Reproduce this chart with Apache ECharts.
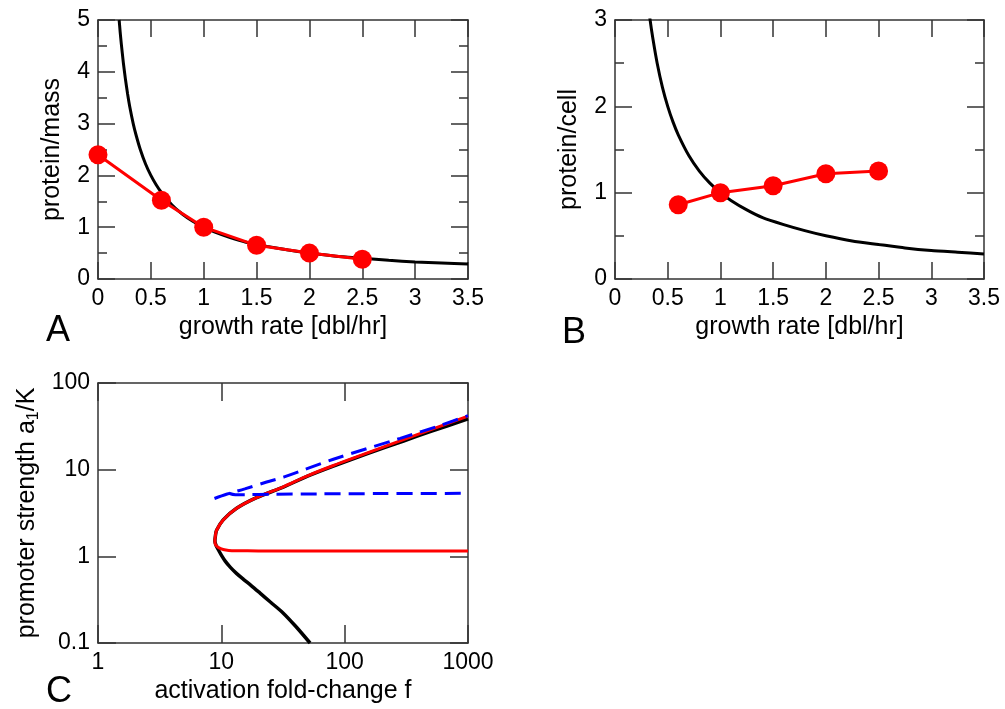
<!DOCTYPE html>
<html>
<head>
<meta charset="utf-8">
<title>Protein levels vs growth rate</title>
<script src="https://cdn.jsdelivr.net/npm/echarts@6/dist/echarts.min.js"></script>
<style>
  html, body { margin: 0; padding: 0; background: #fff; }
  #chart { width: 1005px; height: 709px; }
</style>
</head>
<body>
<div id="chart"></div>
<script>
// ---- Panel A / B : growth-rate axes ----
const rateTicks = [0, 0.5, 1, 1.5, 2, 2.5, 3, 3.5];
const massTicks = [0, 1, 2, 3, 4, 5];
const cellTicks = [0, 1, 2, 3];

// measured protein per mass (panel A)
const growthRateA = [0, 0.6, 1, 1.5, 2, 2.5];
const proteinPerMass = [2.4, 1.52, 1.0, 0.65, 0.5, 0.38];

// measured protein per cell (panel B)
const growthRateB = [0.6, 1, 1.5, 2, 2.5];
const proteinPerCell = [0.86, 1.0, 1.08, 1.22, 1.25];

// reference curve shared by A and B: [growth rate, level]
const referenceCurve = [
  [0.2, 5.0], [0.21, 4.76], [0.22, 4.55], [0.24, 4.17], [0.26, 3.85],
  [0.28, 3.57], [0.3, 3.33], [0.333, 3.0], [0.36, 2.78], [0.4, 2.5],
  [0.45, 2.22], [0.5, 2.0], [0.55, 1.82], [0.6, 1.67], [0.7, 1.43],
  [0.8, 1.25], [0.9, 1.11], [1.0, 1.0], [1.1, 0.91], [1.25, 0.8],
  [1.4, 0.71], [1.6, 0.63], [1.8, 0.56], [2.0, 0.5], [2.25, 0.44],
  [2.5, 0.4], [2.75, 0.36], [3.0, 0.33], [3.25, 0.31], [3.5, 0.29]
];

// ---- Panel C : log-log axes ----
const foldTicks = [1, 1000];
const strengthTicks = [0.1, 100];

// [fold-change f, promoter strength a1/K]
const blackBranch = [
  [52.4, 0.1], [40.05, 0.156], [31.8, 0.221], [24.98, 0.297], [20.61, 0.376],
  [17.55, 0.457], [15.11, 0.543], [13.26, 0.636], [11.85, 0.746], [10.79, 0.874],
  [10.0, 1.033], [9.43, 1.198], [9.03, 1.354], [8.87, 1.5], [8.95, 1.72],
  [9.15, 2.0], [10.35, 2.63], [13.3, 3.58], [19.3, 4.75], [31.8, 6.3],
  [50, 8.4], [80, 10.9], [151, 15.2], [300, 21.4], [500, 27.6], [1000, 38.5]
];
const redBranch = [
  [1000, 1.15], [300, 1.15], [100, 1.15], [40, 1.15], [20, 1.155],
  [13.3, 1.16], [11.5, 1.17], [10.35, 1.2], [9.5, 1.26], [9.0, 1.35],
  [8.87, 1.5], [8.95, 1.72], [9.15, 2.0], [10.35, 2.63], [13.3, 3.58],
  [19.3, 4.75], [31.8, 6.35], [50, 8.5], [80, 11.1], [151, 15.5],
  [300, 22.2], [500, 29.0], [1000, 41.5]
];
const blueUpper = [
  [8.8, 4.65], [11, 5.2], [15.5, 6.0], [23.3, 7.2], [32.8, 8.3],
  [81, 13.2], [282, 23.0], [600, 32.5], [1000, 42]
];
const blueLower = [
  [11.5, 5.35], [13, 5.15], [16, 5.15], [25, 5.2], [60, 5.25],
  [200, 5.3], [1000, 5.33]
];

const FONT = 'Liberation Sans, Arial, Helvetica, sans-serif';
const FRAME = '#333';
const frameLine = { show: true, onZero: false, lineStyle: { color: FRAME, width: 1.5 } };
const tickStyle = { color: FRAME, width: 1.5 };
const labelStyle = { show: true, fontSize: 23, color: '#000', fontFamily: FONT, margin: 8 };
const logLabelStyle = Object.assign({}, labelStyle, { formatter: v => String(v) });
const nameStyle = { fontSize: 25, color: '#000', fontFamily: FONT };
const noLabel = { show: false };
const noSplit = { show: false };

function ticksInfo(ticks) {
  return { min: ticks[0], max: ticks[ticks.length - 1], interval: ticks[1] - ticks[0] };
}

// value axis for the linear panels (labelled side or mirrored frame side)
function linearAxis(gridIndex, ticks, position, labelled, extra) {
  return Object.assign({
    type: 'value', gridIndex, position,
    axisLine: frameLine,
    axisTick: { show: true, inside: true, length: 17, lineStyle: tickStyle },
    axisLabel: labelled ? labelStyle : noLabel,
    splitLine: noSplit
  }, ticksInfo(ticks), extra || {});
}

function logAxis(gridIndex, ticks, position, labelled, extra) {
  return Object.assign({
    type: 'log', logBase: 10, gridIndex, position,
    min: ticks[0], max: ticks[ticks.length - 1],
    axisLine: frameLine,
    axisTick: { show: true, inside: true, length: 18, lineStyle: tickStyle },
    axisLabel: labelled ? logLabelStyle : noLabel,
    splitLine: noSplit, minorTick: { show: false }, minorSplitLine: noSplit
  }, extra || {});
}

const yMinor = { minorTick: { show: true, splitNumber: 2, length: 9, lineStyle: tickStyle }, minorSplitLine: noSplit };

const rateName = { name: 'growth rate [dbl/hr]', nameLocation: 'middle', nameGap: 36, nameTextStyle: nameStyle };

const option = {
  backgroundColor: '#fff',
  animation: false,
  textStyle: { fontFamily: FONT },
  grid: [
    { left: 98, top: 20, width: 370, height: 259 },
    { left: 615, top: 20, width: 369, height: 259 },
    { left: 98, top: 383, width: 370, height: 260 }
  ],
  xAxis: [
    linearAxis(0, rateTicks, 'bottom', true, rateName),
    linearAxis(0, rateTicks, 'top', false),
    linearAxis(1, rateTicks, 'bottom', true, rateName),
    linearAxis(1, rateTicks, 'top', false),
    logAxis(2, foldTicks, 'bottom', true, {
      name: 'activation fold-change f', nameLocation: 'middle', nameGap: 36, nameTextStyle: nameStyle
    }),
    logAxis(2, foldTicks, 'top', false)
  ],
  yAxis: [
    linearAxis(0, massTicks, 'left', true, Object.assign({
      name: 'protein/mass', nameLocation: 'middle', nameGap: 33, nameTextStyle: nameStyle
    }, yMinor)),
    linearAxis(0, massTicks, 'right', false, yMinor),
    linearAxis(1, cellTicks, 'left', true, Object.assign({
      name: 'protein/cell', nameLocation: 'middle', nameGap: 33, nameTextStyle: nameStyle
    }, yMinor)),
    linearAxis(1, cellTicks, 'right', false, yMinor),
    logAxis(2, strengthTicks, 'left', true, {
      name: '{t|promoter strength a}{s|1}{t|/K}', nameLocation: 'middle', nameGap: 56,
      nameTextStyle: {
        color: '#000', fontFamily: FONT, fontSize: 25,
        rich: {
          t: { fontSize: 25, lineHeight: 30, color: '#000', fontFamily: FONT },
          s: { fontSize: 16, lineHeight: 16, verticalAlign: 'bottom', color: '#000', fontFamily: FONT }
        }
      }
    }),
    logAxis(2, strengthTicks, 'right', false)
  ],
  graphic: [
    { type: 'text', x: 46, y: 331, style: { text: 'A', font: '36px ' + FONT, fill: '#000', verticalAlign: 'middle' } },
    { type: 'text', x: 562, y: 333, style: { text: 'B', font: '36px ' + FONT, fill: '#000', verticalAlign: 'middle' } },
    { type: 'text', x: 46, y: 692, style: { text: 'C', font: '36px ' + FONT, fill: '#000', verticalAlign: 'middle' } }
  ],
  series: [
    // panel A
    { type: 'line', xAxisIndex: 0, yAxisIndex: 0, data: referenceCurve, showSymbol: false, smooth: 0.2,
      lineStyle: { color: '#000', width: 3 }, z: 2 },
    { type: 'line', xAxisIndex: 0, yAxisIndex: 0,
      data: growthRateA.map((x, i) => [x, proteinPerMass[i]]),
      symbol: 'circle', symbolSize: 19, itemStyle: { color: '#ff0000' },
      lineStyle: { color: '#ff0000', width: 3 }, z: 3 },
    // panel B
    { type: 'line', xAxisIndex: 2, yAxisIndex: 2, data: referenceCurve, showSymbol: false, smooth: 0.2,
      lineStyle: { color: '#000', width: 3 }, z: 2 },
    { type: 'line', xAxisIndex: 2, yAxisIndex: 2,
      data: growthRateB.map((x, i) => [x, proteinPerCell[i]]),
      symbol: 'circle', symbolSize: 19, itemStyle: { color: '#ff0000' },
      lineStyle: { color: '#ff0000', width: 3 }, z: 3 },
    // panel C
    { type: 'line', xAxisIndex: 4, yAxisIndex: 4, data: blackBranch, showSymbol: false, smooth: 0.3,
      lineStyle: { color: '#000', width: 3.5 }, z: 2 },
    { type: 'line', xAxisIndex: 4, yAxisIndex: 4, data: redBranch, showSymbol: false, smooth: 0.35,
      lineStyle: { color: '#ff0000', width: 3 }, z: 3 },
    { type: 'line', xAxisIndex: 4, yAxisIndex: 4, data: blueUpper, showSymbol: false, smooth: 0.3,
      lineStyle: { color: '#0000ff', width: 3, type: [16, 8] }, z: 4 },
    { type: 'line', xAxisIndex: 4, yAxisIndex: 4, data: blueLower, showSymbol: false, smooth: 0.3,
      lineStyle: { color: '#0000ff', width: 3, type: [16, 8] }, z: 4 }
  ]
};

const chart = echarts.init(document.getElementById('chart'), null, { renderer: 'canvas' });
chart.setOption(option);
</script>
</body>
</html>
